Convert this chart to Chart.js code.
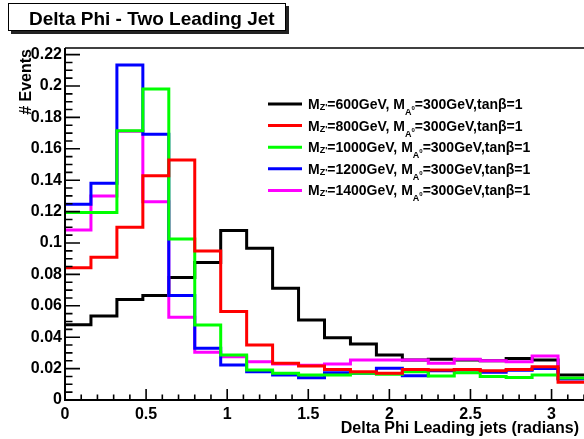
<!DOCTYPE html>
<html><head><meta charset="utf-8">
<script src="https://cdn.jsdelivr.net/npm/chart.js@4/dist/chart.umd.min.js"></script>
<style>html,body{margin:0;padding:0;background:#fff;overflow:hidden}</style>
</head><body>
<canvas id="c" width="584" height="439"></canvas>
<script>
// ---- data ----
const binLowEdges = [0,0.16,0.32,0.48,0.64,0.8,0.96,1.12,1.28,1.44,1.6,1.76,1.92,2.08,2.24,2.4,2.56,2.72,2.88,3.04];
const xUpperEdge = 3.2;
const mz600  = [0.048,0.0535,0.064,0.0665,0.078,0.0875,0.108,0.0966,0.0711,0.051,0.0397,0.0357,0.0287,0.0255,0.0259,0.0255,0.025,0.0265,0.0255,0.0159];
const mz800  = [0.0843,0.0909,0.11,0.1429,0.1529,0.0949,0.0563,0.035,0.0234,0.0217,0.0195,0.018,0.017,0.0195,0.0191,0.0195,0.0187,0.0195,0.0212,0.0113];
const mz1000 = [0.1195,0.1195,0.1715,0.1981,0.1025,0.0478,0.0287,0.0191,0.017,0.0159,0.0159,0.017,0.0164,0.018,0.0153,0.0174,0.0149,0.0144,0.0159,0.014];
const mz1200 = [0.1246,0.138,0.2134,0.1692,0.0665,0.0329,0.0223,0.018,0.0159,0.0142,0.0174,0.017,0.0202,0.0155,0.0187,0.0191,0.0176,0.019,0.02,0.0134];
const mz1400 = [0.1083,0.13,0.1712,0.1263,0.0527,0.0304,0.0276,0.0244,0.0229,0.0222,0.0229,0.0255,0.0255,0.0255,0.0234,0.0259,0.025,0.0244,0.028,0.0138];
const massLabels = ['600','800','1000','1200','1400'];
const seriesColors = ['#000000','#ff0000','#00ff00','#0000ff','#ff00ff'];
const drawOrder = [5, 1, 2, 3, 4]; // lower = drawn on top
const yTickValues = [0,0.02,0.04,0.06,0.08,0.1,0.12,0.14,0.16,0.18,0.2,0.22];
const yTickLabels = ['0','0.02','0.04','0.06','0.08','0.1','0.12','0.14','0.16','0.18','0.2','0.22'];
const xTickValues = [0,0.5,1,1.5,2,2.5,3];
const xTickLabels = ['0','0.5','1','1.5','2','2.5','3'];
const titleText = 'Delta Phi - Two Leading Jet';
const xTitle = 'Delta Phi Leading jets (radians)';
const yTitle = '# Events';

const FONT = '"Liberation Sans", Arial, Helvetica, sans-serif';
const allSeries = [mz600, mz800, mz1000, mz1200, mz1400];

function histPoints(vals){
  const pts = binLowEdges.map((x,i)=>({x:x, y:vals[i]}));
  pts.push({x:xUpperEdge, y:vals[vals.length-1]});
  return pts;
}

const datasets = allSeries.map((s,i)=>({
  label: 'MZ=' + massLabels[i],
  data: histPoints(s),
  borderColor: seriesColors[i],
  backgroundColor: seriesColors[i],
  borderWidth: 3,
  pointRadius: 0,
  stepped: 'before',
  fill: false,
  order: drawOrder[i]
}));

const decorPlugin = {
  id: 'decor',
  beforeDraw(chart){
    const ctx = chart.ctx;
    ctx.save();
    ctx.fillStyle = '#fff';
    ctx.fillRect(0,0,chart.width,chart.height);
    ctx.restore();
  },
  afterDraw(chart){
    const ctx = chart.ctx;
    const a = chart.chartArea;
    const xs = chart.scales.x, ys = chart.scales.y;
    ctx.save();
    // frame
    ctx.strokeStyle = '#000';
    ctx.lineWidth = 1.5;
    ctx.beginPath();
    ctx.moveTo(a.left, a.top); ctx.lineTo(a.right+2, a.top);
    ctx.stroke();
    ctx.lineWidth = 2;
    ctx.beginPath();
    ctx.moveTo(a.left, a.top); ctx.lineTo(a.left, a.bottom); ctx.lineTo(a.right+2, a.bottom);
    ctx.stroke();
    // y ticks (inside)
    ctx.lineWidth = 1.6;
    ctx.beginPath();
    for (let k=0; k<=44; k++){
      const v = k*0.005;
      const py = ys.getPixelForValue(v);
      if (py < a.top) break;
      const len = (k%4===0) ? 15 : 7.5;
      ctx.moveTo(a.left, py); ctx.lineTo(a.left+len, py);
    }
    ctx.stroke();
    // x ticks (inside)
    ctx.beginPath();
    for (let k=0; k<=32; k++){
      const v = k*0.1;
      const px = xs.getPixelForValue(v);
      if (px > a.right+1) break;
      const len = (k%5===0) ? 11 : 5.5;
      ctx.moveTo(px, a.bottom); ctx.lineTo(px, a.bottom-len);
    }
    ctx.stroke();

    // axis titles
    ctx.fillStyle = '#000';
    ctx.font = 'bold 16px ' + FONT;
    ctx.textAlign = 'right';
    ctx.textBaseline = 'alphabetic';
    ctx.fillText(xTitle, 579, 433);
    ctx.save();
    ctx.translate(31, 49);
    ctx.rotate(-Math.PI/2);
    ctx.fillText(yTitle, 0, 0);
    ctx.restore();

    // title box with shadow
    ctx.fillStyle = '#222';
    ctx.fillRect(11, 6, 278, 28);
    ctx.fillStyle = '#fff';
    ctx.fillRect(8, 3, 278, 28);
    ctx.strokeStyle = '#000';
    ctx.lineWidth = 1;
    ctx.strokeRect(8.5, 3.5, 277, 27);
    ctx.fillStyle = '#000';
    ctx.font = 'bold 19px ' + FONT;
    ctx.textAlign = 'left';
    ctx.fillText(titleText, 29, 25);

    // legend
    const rowY0 = 104, rowDY = 21.6;
    for (let i=0;i<allSeries.length;i++){
      const y = rowY0 + i*rowDY;
      ctx.strokeStyle = seriesColors[i];
      ctx.lineWidth = 3;
      ctx.beginPath(); ctx.moveTo(268, y); ctx.lineTo(302, y); ctx.stroke();
      let x = 308;
      const base = y + 5;
      const main = 'bold 14px ' + FONT;
      const sub = 'bold 9px ' + FONT;
      const sup = 'bold 6px ' + FONT;
      ctx.fillStyle = '#000';
      const put = (t, f, dy) => { ctx.font = f; ctx.fillText(t, x, base+dy); x += ctx.measureText(t).width; };
      put('M', main, 0);
      put("Z'", sub, 1);
      put('=' + massLabels[i] + 'GeV, M', main, 0);
      put('A', sub, 6);
      put('0', sup, 1);
      put('=300GeV,tan\u03b2=1', main, 0);
    }
    ctx.restore();
  }
};

new Chart(document.getElementById('c'), {
  type: 'line',
  data: { datasets },
  options: {
    responsive: false,
    animation: false,
    devicePixelRatio: 1,
    layout: { padding: { top: 48, right: 0, left: 0, bottom: 0 } },
    plugins: { legend: { display: false }, tooltip: { enabled: false }, title: { display: false } },
    elements: { line: { tension: 0 } },
    scales: {
      x: {
        type: 'linear', min: 0, max: xUpperEdge,
        afterBuildTicks: s => { s.ticks = xTickValues.map(v => ({ value: v })); },
        afterFit: s => { s.height = 39; },
        grid: { display: false, drawTicks: false },
        border: { display: false },
        ticks: {
          autoSkip: false, maxRotation: 0, padding: 5, color: '#000',
          font: { family: FONT, size: 16, weight: 'bold' },
          callback: (v, i) => xTickLabels[i]
        }
      },
      y: {
        type: 'linear', min: 0, max: 0.2242,
        afterBuildTicks: s => { s.ticks = yTickValues.map(v => ({ value: v })); },
        afterFit: s => { s.width = 65; },
        grid: { display: false, drawTicks: false },
        border: { display: false },
        ticks: {
          autoSkip: false, padding: 3, color: '#000',
          font: { family: FONT, size: 16, weight: 'bold' },
          callback: (v, i) => yTickLabels[i]
        }
      }
    }
  },
  plugins: [decorPlugin]
});
</script>
</body></html>
